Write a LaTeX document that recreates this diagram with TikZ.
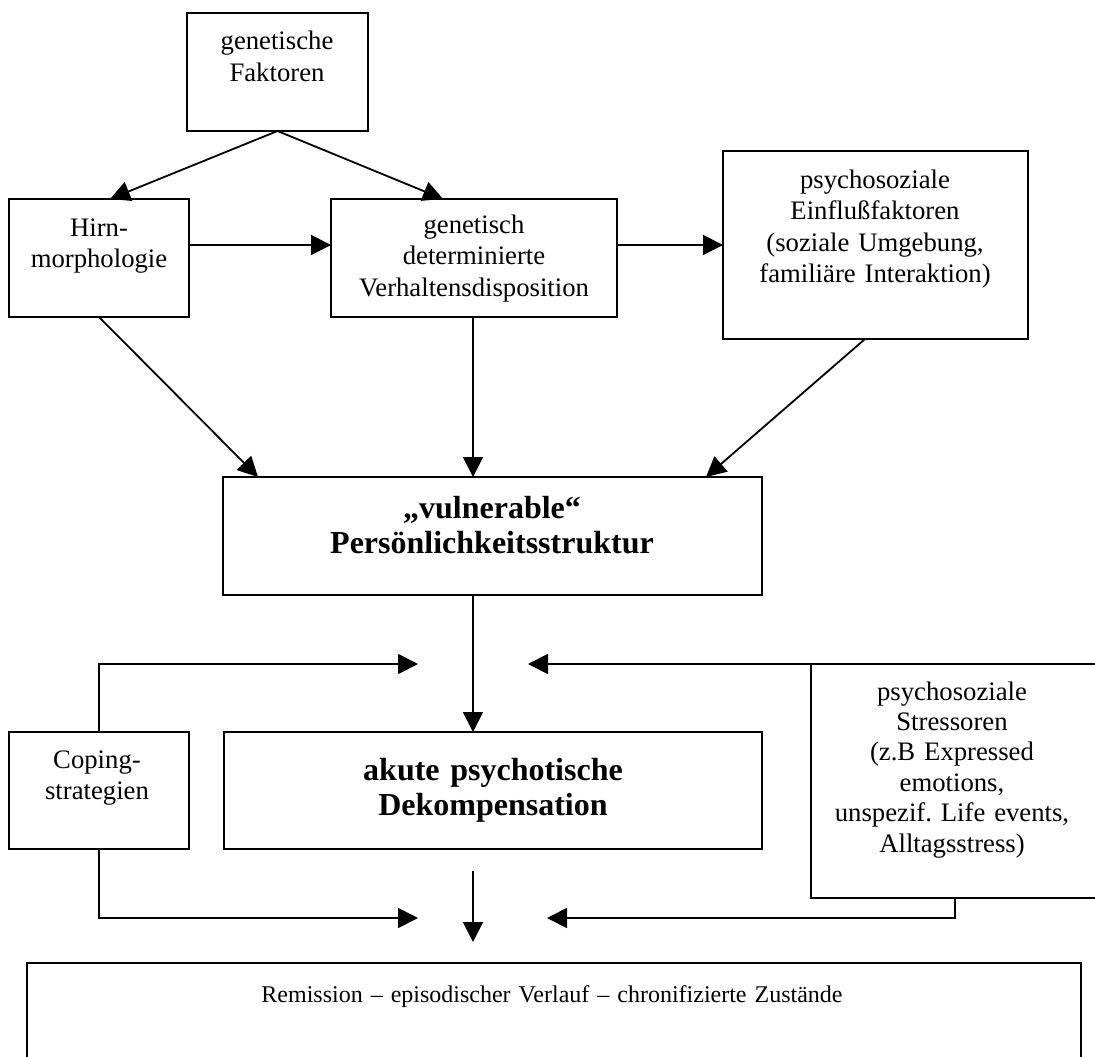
\documentclass[tikz,border=0pt]{standalone}
\usepackage{fontspec}
\setmainfont{Liberation Serif}
\usetikzlibrary{arrows.meta,calc}
\begin{document}
\frenchspacing
\begin{tikzpicture}[x=1pt,y=-1pt,
  box/.style={draw, line width=1.8pt, rectangle, inner sep=0pt, outer sep=0pt, anchor=north west},
  txt/.style={inner sep=0pt, anchor=base, text width=420pt, align=center, font=\fontsize{26.7}{31.5}\selectfont},
  stxt/.style={txt, font=\fontsize{26.7}{30.4}\selectfont},
  btxt/.style={txt, font=\fontsize{32}{35}\selectfont\bfseries},
  arr/.style={line width=1.8pt, -{Triangle[length=20pt,width=20pt]}},
  ln/.style={line width=1.8pt}]
\useasboundingbox (0,0) rectangle (1095,1057);
\clip (0,0) rectangle (1095,1057);

% boxes
\node[box, minimum width=181pt, minimum height=118pt] (gf) at (187,13) {};
\node[box, minimum width=180pt, minimum height=118pt] (hirn) at (9,199) {};
\node[box, minimum width=286pt, minimum height=118pt] (gen) at (331,199) {};
\node[box, minimum width=305pt, minimum height=188pt] (psy) at (723,151) {};
\node[box, minimum width=539pt, minimum height=118pt] (vul) at (223,477) {};
\node[box, minimum width=180pt, minimum height=117pt] (cope) at (9,732) {};
\node[box, minimum width=538pt, minimum height=117pt] (akute) at (224,732) {};
\node[box, minimum width=288pt, minimum height=234pt] (stress) at (811,664) {};
\node[box, minimum width=1054pt, minimum height=140pt] (rem) at (27,963) {};

% texts
\node[txt] (gft) at (277,50) {genetische\\Faktoren};
\node[txt] (hirnt) at (99,236) {Hirn-\\morphologie};
\node[txt] (gent) at (474,233) {genetisch\\determinierte\\Verhaltensdisposition};
\node[txt] (psyt) at (875,188) {psychosoziale\\Einflußfaktoren\\(soziale Umgebung,\\familiäre Interaktion)};
\node[btxt] (vult) at (492,518) {„vulnerable“\\Persönlichkeitsstruktur};
\node[btxt] (akutet) at (493,780) {akute psychotische\\Dekompensation};
\node[txt] (copet) at (97,768) {Coping-\\strategien};
\node[stxt] (stresst) at (952,700) {psychosoziale\\Stressoren\\(z.B Expressed\\emotions,\\unspezif. Life events,\\Alltagsstress)};
\node[txt, text width=1000pt, font=\fontsize{24}{28}\selectfont] (remt) at (552,1002) {Remission – episodischer Verlauf – chronifizierte Zustände};

% helper coordinates
\coordinate (mid) at (473,0);
\coordinate (lj) at (418,664);
\coordinate (rj) at (528,664);
\coordinate (lb) at (418,918);
\coordinate (rb) at (547,918);
\coordinate (dtop) at (473,871);
\coordinate (dbot) at (473,942);

% connectors
\draw[arr] (gf.south) -- ([xshift=11pt]hirn.north);
\draw[arr] (gf.south) -- ([xshift=-31pt]gen.north);
\draw[arr] ([yshift=13pt]hirn.east) -- ([yshift=13pt]gen.west);
\draw[arr] ([yshift=13pt]gen.east) -- (psy.west);
\draw[arr] (hirn.south) -- ([xshift=-234.5pt]vul.north);
\draw[arr] (gen.south -| mid) -- (vul.north -| mid);
\draw[arr] ([xshift=-10.5pt]psy.south) -- ([xshift=213.5pt]vul.north);
\draw[arr] (vul.south -| mid) -- (akute.north -| mid);
\draw[arr] (cope.north) |- (lj);
\draw[arr] (stress.north west) -- (rj);
\draw[arr] (cope.south) |- (lb);
\draw[arr] (stress.south) |- (rb);
\draw[arr] (dtop) -- (dbot);
\end{tikzpicture}
\end{document}
